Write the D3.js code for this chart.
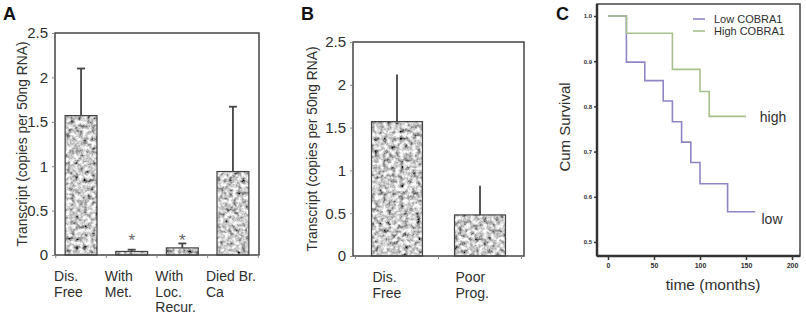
<!DOCTYPE html>
<html lang="en">
<head>
<meta charset="UTF-8">
<title>COBRA1 transcript and survival</title>
<script src="https://d3js.org/d3.v7.min.js"></script>
<style>
    body { margin: 0; background: #fff; }
    svg { font-family: "Liberation Sans", Arial, Helvetica, sans-serif; }
</style>
</head>
<body>
<svg id="chart" width="806" height="317"></svg>
<script>
// panel A
const catsA = [["Dis.", "Free"], ["With", "Met."], ["With", "Loc.", "Recur."], ["Died Br.", "Ca"]];
const meanA = [1.57, 0.04, 0.08, 0.94];
const errA = [2.1, 0.06, 0.13, 1.67];
const starA = [false, true, true, false];

// panel B
const catsB = [["Dis.", "Free"], ["Poor", "Prog."]];
const meanB = [1.57, 0.48];
const errB = [2.12, 0.82];

const barTicks = [0, 0.5, 1, 1.5, 2, 2.5];
const barTickLabels = ["0", "0.5", "1", "1.5", "2", "2.5"];

// panel C - Kaplan-Meier steps (time in months, cum survival)
const lowTime = [0, 20, 40, 60, 70, 80, 90, 100, 130, 160];
const lowSurv = [1.0, 0.898, 0.857, 0.812, 0.766, 0.721, 0.676, 0.629, 0.567, 0.567];
const highTime = [0, 20, 70, 100, 110, 150];
const highSurv = [1.0, 0.962, 0.882, 0.833, 0.778, 0.778];
const survTicks = [0.5, 0.6, 0.7, 0.8, 0.9, 1.0];
const timeTicks = [0, 50, 100, 150, 200];

const ink = "#2e2e2e";
const svg = d3.select("#chart");

// granite texture for bars
const defs = svg.append("defs");
const flt = defs.append("filter").attr("id", "granite")
    .attr("x", 0).attr("y", 0).attr("width", 1).attr("height", 1);
flt.append("feTurbulence").attr("type", "fractalNoise")
    .attr("baseFrequency", 0.24).attr("numOctaves", 3).attr("seed", 5).attr("result", "noise");
flt.append("feColorMatrix").attr("in", "noise").attr("type", "matrix")
    .attr("values", "1.8 0 0 0 -0.3  1.8 0 0 0 -0.3  1.8 0 0 0 -0.3  0 0 0 0 1")
    .attr("result", "grey");
flt.append("feComposite").attr("in", "grey").attr("in2", "SourceGraphic").attr("operator", "in");

function barPanel(opt) {
    const g = svg.append("g");
    const idx = d3.range(opt.mean.length);
    const x = d3.scaleBand().domain(idx).range([opt.x0, opt.x1])
        .paddingInner(opt.pin).paddingOuter(opt.pout);
    const y = d3.scaleLinear().domain([0, 2.5]).range([opt.y0, opt.y1]);

    // bars
    g.selectAll(".bar").data(idx).join("rect")
        .attr("x", i => x(i)).attr("width", x.bandwidth())
        .attr("y", i => y(opt.mean[i])).attr("height", i => y(0) - y(opt.mean[i]))
        .attr("fill", "#aaa").attr("filter", "url(#granite)");
    g.selectAll(".barEdge").data(idx).join("rect")
        .attr("x", i => x(i)).attr("width", x.bandwidth())
        .attr("y", i => y(opt.mean[i])).attr("height", i => y(0) - y(opt.mean[i]))
        .attr("fill", "none").attr("stroke", "#444").attr("stroke-width", 1.2);

    // error bars
    const cx = i => x(i) + x.bandwidth() / 2;
    g.selectAll(".err").data(idx).join("line")
        .attr("x1", cx).attr("x2", cx)
        .attr("y1", i => y(opt.mean[i])).attr("y2", i => y(opt.err[i]))
        .attr("stroke", "#444").attr("stroke-width", 1.8);
    if (opt.cap) {
        g.selectAll(".cap").data(idx).join("line")
            .attr("x1", i => cx(i) - 4).attr("x2", i => cx(i) + 4)
            .attr("y1", i => y(opt.err[i])).attr("y2", i => y(opt.err[i]))
            .attr("stroke", "#444").attr("stroke-width", 1.8);
    }
    if (opt.star) {
        g.selectAll(".star").data(idx.filter(i => opt.star[i])).join("text")
            .attr("x", cx).attr("y", y(0.1))
            .attr("text-anchor", "middle").attr("font-size", 17).attr("fill", "#666")
            .text("*");
    }

    // frame
    g.append("rect").attr("x", opt.x0).attr("y", opt.y1)
        .attr("width", opt.x1 - opt.x0).attr("height", opt.y0 - opt.y1)
        .attr("fill", "none").attr("stroke", "#444").attr("stroke-width", 1.5);

    // y axis
    const ya = g.append("g").attr("transform", `translate(${opt.x0},0)`)
        .call(d3.axisLeft(y).tickValues(barTicks).tickSize(3).tickPadding(4)
            .tickFormat((d, i) => barTickLabels[i]));
    ya.select(".domain").remove();
    ya.selectAll("line").attr("stroke", "#888");
    ya.selectAll("text").attr("font-size", 15).attr("fill", ink).attr("font-family", null);

    // x ticks at band boundaries
    const step = x.step();
    const bounds = d3.range(idx.length + 1).map(k => x(0) - x.paddingInner() * step / 2 + k * step);
    g.selectAll(".xt").data(bounds).join("line")
        .attr("x1", d => d).attr("x2", d => d)
        .attr("y1", opt.y0).attr("y2", opt.y0 + 3)
        .attr("stroke", "#888");

    // category labels
    g.selectAll(".cat").data(idx).join("text")
        .attr("x", i => x(i) + opt.labelDx).attr("y", opt.y0 + 26)
        .attr("font-size", 14).attr("fill", ink)
        .selectAll("tspan").data(i => opt.cats[i]).join("tspan")
        .attr("x", function () { return this.parentNode.getAttribute("x"); })
        .attr("dy", (d, k) => k === 0 ? 0 : 15.5)
        .text(d => d);

    // y title
    g.append("text")
        .attr("transform", `translate(${opt.titleX},${(opt.y0 + opt.y1) / 2}) rotate(-90)`)
        .attr("text-anchor", "middle").attr("font-size", 13.8).attr("fill", ink)
        .text("Transcript (copies per 50ng RNA)");

    // panel letter
    g.append("text").attr("x", opt.letterX).attr("y", 20)
        .attr("font-size", 18).attr("font-weight", "bold").attr("fill", "#111")
        .text(opt.letter);
}

barPanel({ cats: catsA, mean: meanA, err: errA, star: starA, cap: true,
    x0: 55, x1: 259, y0: 255, y1: 33, pin: 0.37, pout: 0.2, labelDx: -11,
    titleX: 27, letter: "A", letterX: 3 });
barPanel({ cats: catsB, mean: meanB, err: errB, star: null, cap: false,
    x0: 353, x1: 524, y0: 256, y1: 42, pin: 0.386, pout: 0.223, labelDx: 1,
    titleX: 317, letter: "B", letterX: 301 });

// panel C
const gc = svg.append("g");
const xs = d3.scaleLinear().domain([0, 200]).range([608, 792]);
const ys = d3.scaleLinear().domain([0.5, 1.0]).range([242, 16]);

gc.append("rect").attr("x", 597).attr("y", 4).attr("width", 203).attr("height", 252)
    .attr("fill", "none").attr("stroke", "#444").attr("stroke-width", 1.5);
gc.append("line").attr("x1", 597).attr("x2", 597).attr("y1", 4).attr("y2", 256)
    .attr("stroke", "#333").attr("stroke-width", 2.5);
gc.append("line").attr("x1", 597).attr("x2", 800).attr("y1", 256).attr("y2", 256)
    .attr("stroke", "#333").attr("stroke-width", 2.5);

const xa = gc.append("g").attr("transform", "translate(0,256)")
    .call(d3.axisBottom(xs).tickValues(timeTicks).tickSize(4).tickPadding(3));
xa.select(".domain").remove();
xa.selectAll("line").attr("stroke", "#333").attr("stroke-width", 1.5);
xa.selectAll("text").attr("font-size", 7).attr("font-weight", "bold").attr("fill", ink).attr("font-family", null);

const ya = gc.append("g").attr("transform", "translate(597,0)")
    .call(d3.axisLeft(ys).tickValues(survTicks).tickSize(3).tickPadding(2).tickFormat(d3.format(".1f")));
ya.select(".domain").remove();
ya.selectAll("line").attr("stroke", "#333").attr("stroke-width", 1.5);
ya.selectAll("text").attr("font-size", 6).attr("font-weight", "bold").attr("fill", ink).attr("font-family", null);

const step = d3.line().x(d => xs(d[0])).y(d => ys(d[1])).curve(d3.curveStepAfter);
gc.append("path").datum(d3.zip(lowTime, lowSurv)).attr("d", step)
    .attr("fill", "none").attr("stroke", "#8e86c4").attr("stroke-width", 1.6);
gc.append("path").datum(d3.zip(highTime, highSurv)).attr("d", step)
    .attr("fill", "none").attr("stroke", "#a8bf8e").attr("stroke-width", 1.6);

// legend
const legend = [["Low COBRA1", "#8e86c4"], ["High COBRA1", "#a8bf8e"]];
legend.forEach((l, i) => {
    const ly = 19 + i * 12;
    gc.append("line").attr("x1", 693).attr("x2", 705).attr("y1", ly).attr("y2", ly)
        .attr("stroke", l[1]).attr("stroke-width", 1.6);
    gc.append("text").attr("x", 714).attr("y", ly + 4).attr("font-size", 11)
        .attr("fill", ink).text(l[0]);
});

gc.append("text").attr("x", 773).attr("y", 122).attr("text-anchor", "middle")
    .attr("font-size", 14).attr("fill", ink).text("high");
gc.append("text").attr("x", 772).attr("y", 224).attr("text-anchor", "middle")
    .attr("font-size", 14).attr("fill", ink).text("low");

gc.append("text").attr("x", 713).attr("y", 290).attr("text-anchor", "middle")
    .attr("font-size", 15.5).attr("fill", ink).text("time (months)");
gc.append("text").attr("transform", "translate(570,127) rotate(-90)")
    .attr("text-anchor", "middle").attr("font-size", 15).attr("fill", ink).text("Cum Survival");
gc.append("text").attr("x", 556).attr("y", 20)
    .attr("font-size", 18).attr("font-weight", "bold").attr("fill", "#111").text("C");
</script>
</body>
</html>
